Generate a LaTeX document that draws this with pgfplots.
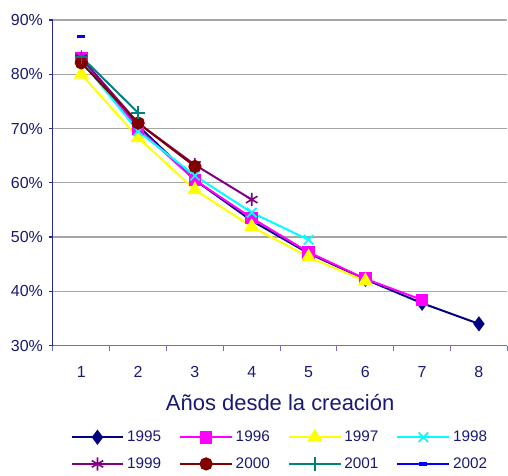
\documentclass[border=0pt]{standalone}
\usepackage{fontspec}
\setmainfont{Liberation Sans}
\usepackage{pgfplots}
\pgfplotsset{compat=1.18}
\definecolor{txt}{RGB}{25,25,115}
\definecolor{yax}{RGB}{40,40,160}
\definecolor{xax}{RGB}{110,110,195}
\definecolor{c95}{RGB}{0,0,128}
\definecolor{c96}{RGB}{255,0,255}
\definecolor{c97}{RGB}{255,255,0}
\definecolor{c98}{RGB}{0,255,255}
\definecolor{c99}{RGB}{128,0,128}
\definecolor{c00}{RGB}{128,0,0}
\definecolor{c01}{RGB}{0,128,128}
\definecolor{c02}{RGB}{0,0,255}
\begin{document}
\begin{tikzpicture}[x=0.75pt,y=0.75pt]
\begin{axis}[
  at={(0,0)}, anchor=south west,
  scale only axis,
  width=341.25pt, height=244.5pt,
  xmin=0.5, xmax=8.5, ymin=30, ymax=90,
  axis x line*=bottom, axis y line*=left,
  x axis line style={xax, line width=1pt, -},
  y axis line style={yax, line width=0.8pt, -},
  xtick={1,...,8},
  minor xtick={0.5,1.5,...,8.5},
  major x tick style={draw=none},
  minor x tick style={xax, line width=0.8pt},
  tick align=outside,
  minor tick length=4pt,
  ytick={30,40,...,90},
  y tick style={yax, line width=0.8pt},
  major tick length=3pt,
  ymajorgrids,
  grid style={gray!70, line width=0.8pt},
  /pgf/number format/assume math mode=true,
  yticklabel={\pgfmathprintnumber{\tick}\%},
  ticklabel style={font=\fontsize{12}{14}\selectfont, text=txt},
  xticklabel style={yshift=-9pt},
  yticklabel style={xshift=-1pt},
  xlabel={Años desde la creación},
  xlabel style={font=\fontsize{16.5}{19}\selectfont, text=txt, yshift=-6pt},
  legend columns=4,
  legend style={at={(0.5,-0.245)}, anchor=north, draw=none, fill=none,
    font=\fontsize{11.5}{13}\selectfont, text=txt,
    /tikz/every even column/.append style={column sep=11.5pt},
    row sep=6.5pt},
  legend cell align=left,
  legend image code/.code={\draw[mark repeat=2,mark phase=2] plot coordinates {(0pt,0pt) (19.5pt,0pt) (39pt,0pt)};},
  every axis plot/.append style={line width=1.5pt},
]
\addplot[c95, mark=diamond*, mark size=4.5pt, mark options={solid}] coordinates {(1,82.5) (2,70.5) (3,60.5) (4,53) (5,47) (6,42.2) (7,37.8) (8,34.0)};
\addplot[c96, mark=square*, mark size=4pt] coordinates {(1,83) (2,70) (3,60.5) (4,53.5) (5,47.2) (6,42.3) (7,38.4)};
\addplot[c97, mark=triangle*, mark size=5pt] coordinates {(1,80) (2,68.3) (3,58.7) (4,51.9) (5,46.3) (6,41.9)};
\addplot[c98, mark=x, mark size=5pt, mark options={line width=1.3pt}] coordinates {(1,82.5) (2,69.5) (3,61.3) (4,54.5) (5,49.5)};
\addplot[c99, mark=asterisk, mark size=5pt, mark options={line width=1.2pt}] coordinates {(1,83) (2,71) (3,63.3) (4,56.9)};
\addplot[c00, mark=*, mark size=4.2pt] coordinates {(1,82.1) (2,71) (3,63)};
\addplot[c01, mark=+, mark size=5pt, mark options={line width=1.2pt}] coordinates {(1,83.2) (2,72.9)};
\addplot[c02, mark=-, mark size=3pt, mark options={line width=2.5pt}] coordinates {(1,86.9)};
\legend{1995,1996,1997,1998,1999,2000,2001,2002}
\end{axis}
\path (current axis.south west) ++(-39.75pt,-95.25pt) rectangle ++(381pt,354.75pt);
\end{tikzpicture}
\end{document}
